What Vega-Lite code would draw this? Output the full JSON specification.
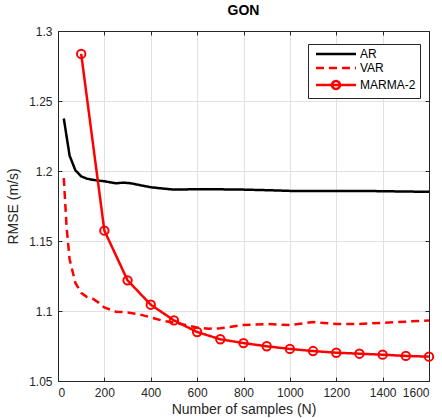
{
  "$schema": "https://vega.github.io/schema/vega-lite/v6.json",
  "autosize": "none",
  "padding": {"left": 58, "top": 31, "right": 13, "bottom": 37},
  "width": 371,
  "height": 350,
  "background": "white",
  "title": {"text": "GON", "font": "Liberation Sans", "fontSize": 14, "fontWeight": "bold", "color": "#000000", "offset": 7, "anchor": "middle"},
  "config": {
    "view": {"stroke": null},
    "axis": {
      "labelFont": "Liberation Sans", "labelFontSize": 12, "labelColor": "#262626",
      "titleFont": "Liberation Sans", "titleFontSize": 14, "titleFontWeight": "normal", "titleColor": "#262626",
      "domainColor": "#262626", "domainWidth": 1, "tickColor": "#262626", "tickWidth": 1,
      "gridColor": "#e1e1e1", "gridWidth": 1
    }
  },
  "data": {"values": [
    {"N": 25, "rmse": 1.2375, "series": "AR"},
    {"N": 50, "rmse": 1.2110, "series": "AR"},
    {"N": 75, "rmse": 1.2005, "series": "AR"},
    {"N": 100, "rmse": 1.1962, "series": "AR"},
    {"N": 125, "rmse": 1.1945, "series": "AR"},
    {"N": 150, "rmse": 1.1937, "series": "AR"},
    {"N": 175, "rmse": 1.1931, "series": "AR"},
    {"N": 200, "rmse": 1.1927, "series": "AR"},
    {"N": 225, "rmse": 1.1919, "series": "AR"},
    {"N": 250, "rmse": 1.1912, "series": "AR"},
    {"N": 275, "rmse": 1.1916, "series": "AR"},
    {"N": 300, "rmse": 1.1915, "series": "AR"},
    {"N": 325, "rmse": 1.1909, "series": "AR"},
    {"N": 350, "rmse": 1.1900, "series": "AR"},
    {"N": 400, "rmse": 1.1884, "series": "AR"},
    {"N": 450, "rmse": 1.1875, "series": "AR"},
    {"N": 500, "rmse": 1.1867, "series": "AR"},
    {"N": 600, "rmse": 1.1870, "series": "AR"},
    {"N": 700, "rmse": 1.1869, "series": "AR"},
    {"N": 800, "rmse": 1.1867, "series": "AR"},
    {"N": 900, "rmse": 1.1863, "series": "AR"},
    {"N": 1000, "rmse": 1.1858, "series": "AR"},
    {"N": 1100, "rmse": 1.1858, "series": "AR"},
    {"N": 1200, "rmse": 1.1858, "series": "AR"},
    {"N": 1300, "rmse": 1.1857, "series": "AR"},
    {"N": 1400, "rmse": 1.1856, "series": "AR"},
    {"N": 1500, "rmse": 1.1853, "series": "AR"},
    {"N": 1600, "rmse": 1.1852, "series": "AR"},
    {"N": 25, "rmse": 1.1950, "series": "VAR"},
    {"N": 37, "rmse": 1.1600, "series": "VAR"},
    {"N": 50, "rmse": 1.1370, "series": "VAR"},
    {"N": 75, "rmse": 1.1200, "series": "VAR"},
    {"N": 100, "rmse": 1.1130, "series": "VAR"},
    {"N": 125, "rmse": 1.1100, "series": "VAR"},
    {"N": 150, "rmse": 1.1088, "series": "VAR"},
    {"N": 175, "rmse": 1.1060, "series": "VAR"},
    {"N": 200, "rmse": 1.1025, "series": "VAR"},
    {"N": 250, "rmse": 1.0995, "series": "VAR"},
    {"N": 300, "rmse": 1.0990, "series": "VAR"},
    {"N": 350, "rmse": 1.0976, "series": "VAR"},
    {"N": 400, "rmse": 1.0955, "series": "VAR"},
    {"N": 450, "rmse": 1.0931, "series": "VAR"},
    {"N": 500, "rmse": 1.0917, "series": "VAR"},
    {"N": 550, "rmse": 1.0900, "series": "VAR"},
    {"N": 600, "rmse": 1.0882, "series": "VAR"},
    {"N": 650, "rmse": 1.0874, "series": "VAR"},
    {"N": 700, "rmse": 1.0876, "series": "VAR"},
    {"N": 800, "rmse": 1.0900, "series": "VAR"},
    {"N": 900, "rmse": 1.0907, "series": "VAR"},
    {"N": 1000, "rmse": 1.0900, "series": "VAR"},
    {"N": 1100, "rmse": 1.0921, "series": "VAR"},
    {"N": 1200, "rmse": 1.0907, "series": "VAR"},
    {"N": 1300, "rmse": 1.0908, "series": "VAR"},
    {"N": 1400, "rmse": 1.0915, "series": "VAR"},
    {"N": 1500, "rmse": 1.0924, "series": "VAR"},
    {"N": 1600, "rmse": 1.0933, "series": "VAR"},
    {"N": 100, "rmse": 1.2836, "series": "MARMA-2"},
    {"N": 200, "rmse": 1.1574, "series": "MARMA-2"},
    {"N": 300, "rmse": 1.1219, "series": "MARMA-2"},
    {"N": 400, "rmse": 1.1045, "series": "MARMA-2"},
    {"N": 500, "rmse": 1.0933, "series": "MARMA-2"},
    {"N": 600, "rmse": 1.0850, "series": "MARMA-2"},
    {"N": 700, "rmse": 1.0798, "series": "MARMA-2"},
    {"N": 800, "rmse": 1.0771, "series": "MARMA-2"},
    {"N": 900, "rmse": 1.0748, "series": "MARMA-2"},
    {"N": 1000, "rmse": 1.0729, "series": "MARMA-2"},
    {"N": 1100, "rmse": 1.0714, "series": "MARMA-2"},
    {"N": 1200, "rmse": 1.0702, "series": "MARMA-2"},
    {"N": 1300, "rmse": 1.0695, "series": "MARMA-2"},
    {"N": 1400, "rmse": 1.0688, "series": "MARMA-2"},
    {"N": 1500, "rmse": 1.0679, "series": "MARMA-2"},
    {"N": 1600, "rmse": 1.0674, "series": "MARMA-2"}
  ]},
  "resolve": {"axis": {"x": "independent", "y": "independent"}},
  "layer": [
    {
      "mark": {"type": "line", "strokeWidth": 2.5, "clip": true},
      "encoding": {
        "x": {"field": "N", "type": "quantitative",
          "scale": {"domain": [0, 1600], "nice": false, "zero": false},
          "axis": {"orient": "bottom", "values": [0, 200, 400, 600, 800, 1000, 1200, 1400, 1600], "format": "d", "title": "Number of samples (N)", "tickSize": -4, "labelPadding": 10, "titlePadding": 4, "grid": true}},
        "y": {"field": "rmse", "type": "quantitative",
          "scale": {"domain": [1.05, 1.3], "nice": false, "zero": false},
          "axis": {"orient": "left", "values": [1.05, 1.1, 1.15, 1.2, 1.25, 1.3], "format": "~g", "title": "RMSE (m/s)", "tickSize": -4, "labelPadding": 10, "titlePadding": 8, "grid": true}},
        "color": {"field": "series", "type": "nominal",
          "scale": {"domain": ["AR", "VAR", "MARMA-2"], "range": ["#000000", "#ff0000", "#ff0000"]},
          "legend": {
            "orient": "none", "legendX": 250, "legendY": 13, "title": null,
            "direction": "vertical", "columns": 1,
            "fillColor": "white", "strokeColor": "#262626", "padding": 4,
            "labelFont": "Liberation Sans", "labelFontSize": 12, "labelColor": "#000000", "labelAlign": "left", "labelBaseline": "middle",
            "symbolSize": 64, "symbolStrokeWidth": 2.5, "symbolOffset": 0, "labelOffset": 0, "rowPadding": 2,
            "encode": {
              "symbols": {"update": {
                "x": {"value": 24},
                "shape": {"signal": "datum.value === 'MARMA-2' ? 'M-5,0H5M1,0L0.924,0.383L0.707,0.707L0.383,0.924L0,1L-0.383,0.924L-0.707,0.707L-0.924,0.383L-1,0L-0.924,-0.383L-0.707,-0.707L-0.383,-0.924L0,-1L0.383,-0.924L0.707,-0.707L0.924,-0.383Z' : 'M-5,0H5'"},
                "stroke": {"signal": "datum.value === 'AR' ? '#000000' : '#ff0000'"},
                "strokeDash": {"signal": "datum.value === 'VAR' ? [8, 5] : [1, 0]"},
                "strokeWidth": {"value": 2.5},
                "fill": {"value": "transparent"},
                "opacity": {"value": 1}
              }},
              "labels": {"update": {"x": {"value": 48}, "align": {"value": "left"}}}
            }
          }},
        "strokeDash": {"field": "series", "type": "nominal",
          "scale": {"domain": ["AR", "VAR", "MARMA-2"], "range": [[1, 0], [8, 5], [1, 0]]},
          "legend": null}
      }
    },
    {
      "transform": [{"filter": "datum.series === 'MARMA-2'"}],
      "mark": {"type": "point", "shape": "circle", "filled": false, "stroke": "#ff0000", "strokeWidth": 2, "size": 70, "opacity": 1},
      "encoding": {
        "x": {"field": "N", "type": "quantitative",
          "axis": {"orient": "top", "values": [0, 200, 400, 600, 800, 1000, 1200, 1400, 1600], "labels": false, "title": null, "tickSize": -4, "grid": false}},
        "y": {"field": "rmse", "type": "quantitative",
          "axis": {"orient": "right", "values": [1.05, 1.1, 1.15, 1.2, 1.25, 1.3], "labels": false, "title": null, "tickSize": -4, "grid": false}}
      }
    }
  ]
}
